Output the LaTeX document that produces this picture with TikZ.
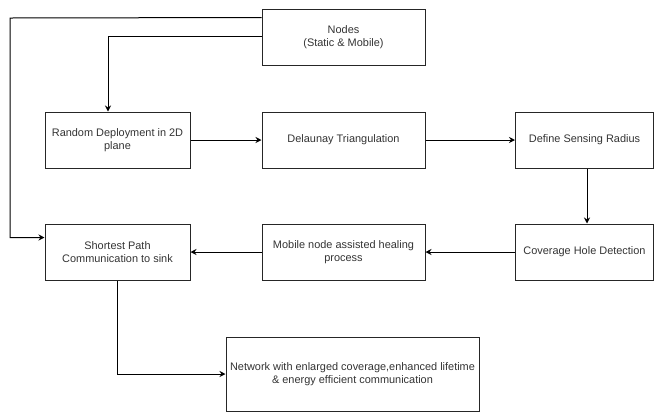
\documentclass[tikz,border=0pt]{standalone}
\usepackage{fontspec}
\setmainfont{Liberation Sans}
\usetikzlibrary{arrows.meta,calc,positioning}

\begin{document}
\begin{tikzpicture}[x=0.75pt,y=-0.75pt,
      box/.style={draw=black!85,line width=0.75pt,align=center,
        text=black!80,font=\fontsize{8.2}{10}\selectfont,
        minimum height=42pt,inner sep=2pt},
      wide/.style={box,minimum width=122.25pt},
      narrow/.style={box,minimum width=108.75pt},
      arr/.style={line width=0.75pt,-{Stealth[length=4.5pt,width=4.5pt]}}]

      \useasboundingbox (0,0) rectangle (654,412);

      \node[wide] (nodes) at (343.5,37) {Nodes\\(Static \& Mobile)} ;

      \node[narrow] (random) at (117.5,140) {Random Deployment in 2D\\plane} ;
      \node[wide] (delaunay) at (343.5,140) {Delaunay Triangulation} ;
      \node[box,minimum width=103.5pt] (radius) at (584.5,140) {Define Sensing Radius} ;

      \node[box,minimum width=103.5pt] (hole) at (584.5,252) {Coverage Hole Detection} ;
      \node[wide] (healing) at (343.5,252) {Mobile node assisted healing\\process} ;
      \node[narrow] (shortest) at (117.5,252) {Shortest Path\\Communication to sink} ;

      \node[box,minimum width=189.75pt,minimum height=55.5pt] (network) at (352.5,374)
        {Network with enlarged coverage,enhanced lifetime\\\& energy efficient communication} ;

      \coordinate (left) at (10,18) ;

      \draw[arr] ($(nodes.north west)+(0,9)$) -- (left) |- ($(shortest.north west)+(0,14)$) ;
      \draw[arr] ($(nodes.north west)+(0,28)$) -| ($(random.north)+(-9.5,0)$) ;

      \path[arr]
      (random) edge (delaunay)
      (delaunay) edge (radius)
      ($(radius.south)+(2.5,0)$) edge ($(hole.north)+(2.5,0)$)
      (hole) edge (healing)
      (healing) edge (shortest) ;

      \draw[arr] (shortest.south) |- (network.west) ;

    \end{tikzpicture}
\end{document}
